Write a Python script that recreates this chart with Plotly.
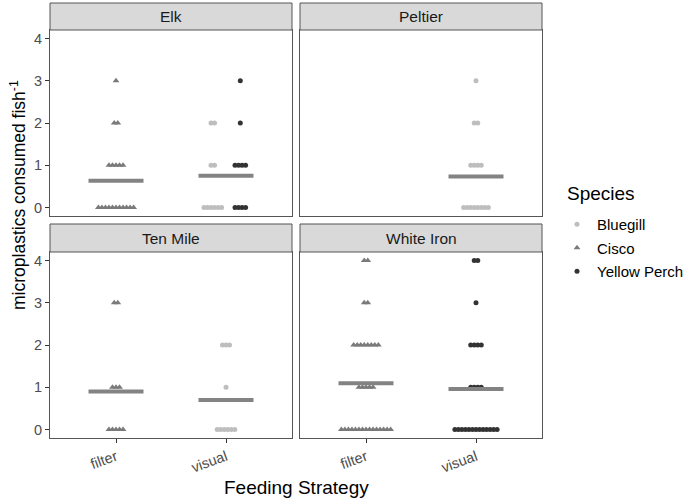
import plotly.graph_objects as go

W, H = 692, 499

# data: number of fish at each count of microplastics (0, 1, 2, 3, 4)
values = [0, 1, 2, 3, 4]
lakes = ["Elk", "Peltier", "Ten Mile", "White Iron"]
strategies = ["filter", "visual"]
species = ["Bluegill", "Cisco", "Yellow Perch"]

elk_filter_cisco = [11, 5, 2, 1, 0]
elk_visual_bluegill = [6, 2, 2, 0, 0]
elk_visual_perch = [4, 4, 1, 1, 0]
peltier_visual_bluegill = [8, 4, 2, 1, 0]
tenmile_filter_cisco = [5, 3, 0, 2, 0]
tenmile_visual_bluegill = [6, 1, 3, 0, 0]
whiteiron_filter_cisco = [15, 5, 8, 2, 2]
whiteiron_visual_perch = [13, 4, 4, 1, 2]

groups = [
    ("Elk", "filter", "Cisco", elk_filter_cisco),
    ("Elk", "visual", "Bluegill", elk_visual_bluegill),
    ("Elk", "visual", "Yellow Perch", elk_visual_perch),
    ("Peltier", "visual", "Bluegill", peltier_visual_bluegill),
    ("Ten Mile", "filter", "Cisco", tenmile_filter_cisco),
    ("Ten Mile", "visual", "Bluegill", tenmile_visual_bluegill),
    ("White Iron", "filter", "Cisco", whiteiron_filter_cisco),
    ("White Iron", "visual", "Yellow Perch", whiteiron_visual_perch),
]

colors = {"Bluegill": "#BEBEBE", "Cisco": "#7A7A7A", "Yellow Perch": "#333333"}
symbols = {"Bluegill": "circle", "Cisco": "triangle-up", "Yellow Perch": "circle"}
msize = {"Bluegill": 5, "Cisco": 6, "Yellow Perch": 5}

# panel boxes in pixels (x0, x1, y0, y1), y from top
panels = {
    "Elk": (50, 292, 30, 216),
    "Peltier": (300, 542, 30, 216),
    "Ten Mile": (50, 292, 252, 438),
    "White Iron": (300, 542, 252, 438),
}
strips = {"Elk": (3, 30), "Peltier": (3, 30), "Ten Mile": (224, 252), "White Iron": (224, 252)}

def px(x):
    return x / W

def py(y):
    return 1 - y / H

fig = go.Figure()
axis_id = {lake: ("" if i == 0 else str(i + 1)) for i, lake in enumerate(lakes)}

spacing = 0.032
shown = set()
for lake, strat, sp, counts in groups:
    base = strategies.index(strat) + 1
    n_groups = sum(1 for g in groups if g[0] == lake and g[1] == strat)
    offset = 0
    if n_groups > 1:
        offset = -0.12 if sp == "Bluegill" else 0.13
    xs, ys = [], []
    for v, c in zip(values, counts):
        for i in range(c):
            xs.append(base + offset + (i - (c - 1) / 2) * spacing)
            ys.append(v)
    a = axis_id[lake]
    fig.add_trace(go.Scatter(
        x=xs, y=ys, mode="markers",
        marker=dict(color=colors[sp], symbol=symbols[sp], size=msize[sp], line=dict(width=0)),
        name=sp, legendgroup=sp, showlegend=sp not in shown,
        legendrank={"Bluegill": 1, "Cisco": 2, "Yellow Perch": 3}[sp],
        xaxis="x" + a, yaxis="y" + a, hoverinfo="skip",
    ))
    shown.add(sp)

# mean lines per lake and strategy
for lake in lakes:
    for s_i, strat in enumerate(strategies):
        tot, n = 0, 0
        for g in groups:
            if g[0] == lake and g[1] == strat:
                tot += sum(v * c for v, c in zip(values, g[3]))
                n += sum(g[3])
        if n == 0:
            continue
        m = tot / n
        a = axis_id[lake]
        fig.add_trace(go.Scatter(
            x=[s_i + 1 - 0.25, s_i + 1 + 0.25], y=[m, m], mode="lines",
            line=dict(color="#838383", width=4), showlegend=False,
            xaxis="x" + a, yaxis="y" + a, hoverinfo="skip",
        ))

layout = dict(
    width=W, height=H, margin=dict(l=0, r=0, t=0, b=0),
    paper_bgcolor="white", plot_bgcolor="white",
    font=dict(family="Liberation Sans, Arial, sans-serif", color="black"),
)
shapes = []
annotations = []
for lake in lakes:
    x0, x1, y0, y1 = panels[lake]
    a = axis_id[lake]
    bottom = lake in ("Ten Mile", "White Iron")
    left = lake in ("Elk", "Ten Mile")
    layout["xaxis" + a] = dict(
        domain=[px(x0), px(x1)], anchor="y" + a, range=[0.4, 2.6],
        tickvals=[1, 2], ticktext=strategies, showticklabels=bottom,
        ticks="outside" if bottom else "", ticklen=4, tickcolor="#333333",
        tickangle=-20, tickfont=dict(size=14.5, color="#4D4D4D"),
        showgrid=False, zeroline=False, showline=True, mirror=True,
        linecolor="#555555", linewidth=1, fixedrange=True,
    )
    layout["yaxis" + a] = dict(
        domain=[py(y1), py(y0)], anchor="x" + a, range=[-0.2, 4.2],
        tickvals=values, showticklabels=left,
        ticks="outside" if left else "", ticklen=4, tickcolor="#333333",
        tickfont=dict(size=14.5, color="#4D4D4D"),
        showgrid=False, zeroline=False, showline=True, mirror=True,
        linecolor="#555555", linewidth=1, fixedrange=True,
    )
    s0, s1 = strips[lake]
    shapes.append(dict(type="rect", xref="paper", yref="paper",
                       x0=px(x0), x1=px(x1), y0=py(s1), y1=py(s0),
                       fillcolor="#D9D9D9", line=dict(color="#555555", width=1)))
    annotations.append(dict(text=lake, xref="paper", yref="paper",
                            x=px((x0 + x1) / 2), y=py((s0 + s1) / 2),
                            showarrow=False, font=dict(size=15.5, color="#1A1A1A"),
                            xanchor="center", yanchor="middle"))

annotations.append(dict(text="microplastics consumed fish<sup>-1</sup>", xref="paper", yref="paper",
                        x=px(18), y=py(195), textangle=-90, showarrow=False,
                        font=dict(size=17.5), xanchor="center", yanchor="middle"))
annotations.append(dict(text="Feeding Strategy", xref="paper", yref="paper",
                        x=px(296), y=py(487), showarrow=False,
                        font=dict(size=19), xanchor="center", yanchor="middle"))
annotations.append(dict(text="Species", xref="paper", yref="paper",
                        x=px(565), y=py(193), showarrow=False,
                        font=dict(size=19), xanchor="left", yanchor="middle"))

layout["shapes"] = shapes
layout["annotations"] = annotations
layout["legend"] = dict(
    x=px(557), y=py(208), xanchor="left", yanchor="top",
    font=dict(size=15), bgcolor="rgba(0,0,0,0)", itemsizing="trace",
    tracegroupgap=1,
)
fig.update_layout(**layout)

fig.write_html("out.html", config={"displayModeBar": False},
               post_script="document.body.style.margin = '0';")
